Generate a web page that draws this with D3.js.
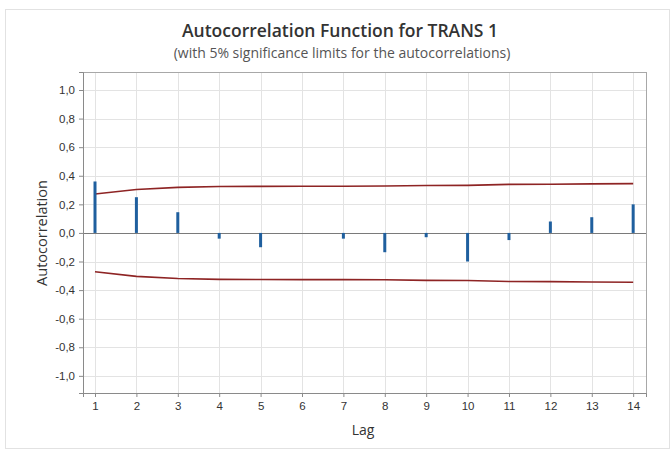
<!DOCTYPE html>
<html lang="en">
<head>
<meta charset="UTF-8">
<title>Autocorrelation Function for TRANS 1</title>
<style>
  body { margin: 0; background: #fff; font-family: "Open Sans", "Noto Sans", sans-serif; }
  .grid line { stroke: #e3e3e3; stroke-width: 1px; }
  .axis path, .axis line { stroke: #8a8a8a; }
  .axis text { fill: #333; font-size: 11.5px; }
</style>
</head>
<body>
<script src="https://d3js.org/d3.v7.min.js"></script>
<script>
// ACF values
var lags = [1, 2, 3, 4, 5, 6, 7, 8, 9, 10, 11, 12, 13, 14];
var acf = [0.36, 0.25, 0.145, -0.04, -0.10, 0.0, -0.04, -0.135, -0.03, -0.20, -0.05, 0.08, 0.11, 0.20];
// 5% significance limits (upper; lower is the mirror)
var limit = [0.272, 0.304, 0.319, 0.325, 0.326, 0.327, 0.327, 0.328, 0.332, 0.333, 0.340, 0.341, 0.343, 0.345];
var yTicks = [-1.0, -0.8, -0.6, -0.4, -0.2, 0.0, 0.2, 0.4, 0.6, 0.8, 1.0];

var width = 672, height = 450,
    margin = {top: 72, right: 26, bottom: 57, left: 83};

var svg = d3.select("body").append("svg")
    .attr("width", width)
    .attr("height", height);

// outer frame
svg.append("rect")
    .attr("x", 5.5).attr("y", 9.5)
    .attr("width", 664).attr("height", 439)
    .attr("fill", "#fff")
    .attr("stroke", "#e2e2e2");

var x = d3.scaleLinear().domain([0.71, 14.31]).range([margin.left, width - margin.right]);
var y = d3.scaleLinear().domain([-1.12, 1.126]).range([height - margin.bottom, margin.top]);

// gridlines
var grid = svg.append("g").attr("class", "grid");
grid.selectAll(".gx").data(lags).enter().append("line")
    .attr("x1", d => Math.round(x(d)) + 0.5).attr("x2", d => Math.round(x(d)) + 0.5)
    .attr("y1", y.range()[1]).attr("y2", y.range()[0]);
grid.selectAll(".gy").data(yTicks).enter().append("line")
    .attr("x1", x.range()[0]).attr("x2", x.range()[1])
    .attr("y1", d => Math.round(y(d)) + 0.5).attr("y2", d => Math.round(y(d)) + 0.5);

// plot frame
svg.append("rect")
    .attr("x", x.range()[0] + 0.5).attr("y", y.range()[1] + 0.5)
    .attr("width", x.range()[1] - x.range()[0]).attr("height", y.range()[0] - y.range()[1])
    .attr("fill", "none").attr("stroke", "#a8a8a8");

// zero reference line
svg.append("line")
    .attr("x1", x.range()[0]).attr("x2", x.range()[1])
    .attr("y1", Math.round(y(0)) + 0.5).attr("y2", Math.round(y(0)) + 0.5)
    .attr("stroke", "#7a7a7a").attr("stroke-width", 1);

// significance limits
var line = d3.line().x((d, i) => x(lags[i])).y(d => y(d));
svg.append("path").datum(limit)
    .attr("d", line).attr("fill", "none")
    .attr("stroke", "#8e2424").attr("stroke-width", 1.6);
svg.append("path").datum(limit.map(v => -v))
    .attr("d", line).attr("fill", "none")
    .attr("stroke", "#8e2424").attr("stroke-width", 1.6);

// ACF bars
svg.selectAll(".bar").data(acf).enter().append("line")
    .attr("x1", (d, i) => x(lags[i])).attr("x2", (d, i) => x(lags[i]))
    .attr("y1", y(0)).attr("y2", d => y(d))
    .attr("stroke", "#1f5f9e").attr("stroke-width", 3);

// axes
var fmt = d => d3.format(".1f")(d).replace(".", ",").replace("\u2212", "-");
svg.append("g").attr("class", "axis")
    .attr("transform", "translate(" + x.range()[0] + ",0)")
    .call(d3.axisLeft(y).tickValues(yTicks).tickFormat(fmt).tickSize(4).tickPadding(4))
    .call(g => g.select(".domain").attr("stroke", "#8a8a8a"));
svg.append("g").attr("class", "axis")
    .attr("transform", "translate(0," + y.range()[0] + ")")
    .call(d3.axisBottom(x).tickValues(lags).tickFormat(d3.format("d")).tickSize(4).tickPadding(5));

// titles
svg.append("text")
    .attr("x", 340).attr("y", 37)
    .attr("text-anchor", "middle")
    .attr("font-size", "17.5px").attr("font-weight", 600).attr("fill", "#333")
    .text("Autocorrelation Function for TRANS 1");
svg.append("text")
    .attr("x", 342).attr("y", 58)
    .attr("text-anchor", "middle")
    .attr("font-size", "14px").attr("fill", "#555")
    .text("(with 5% significance limits for the autocorrelations)");

svg.append("text")
    .attr("x", 363).attr("y", 435)
    .attr("text-anchor", "middle")
    .attr("font-size", "14px").attr("fill", "#333")
    .text("Lag");
svg.append("text")
    .attr("transform", "translate(47,233)rotate(-90)")
    .attr("text-anchor", "middle")
    .attr("font-size", "14.5px").attr("fill", "#333")
    .text("Autocorrelation");
</script>
</body>
</html>
